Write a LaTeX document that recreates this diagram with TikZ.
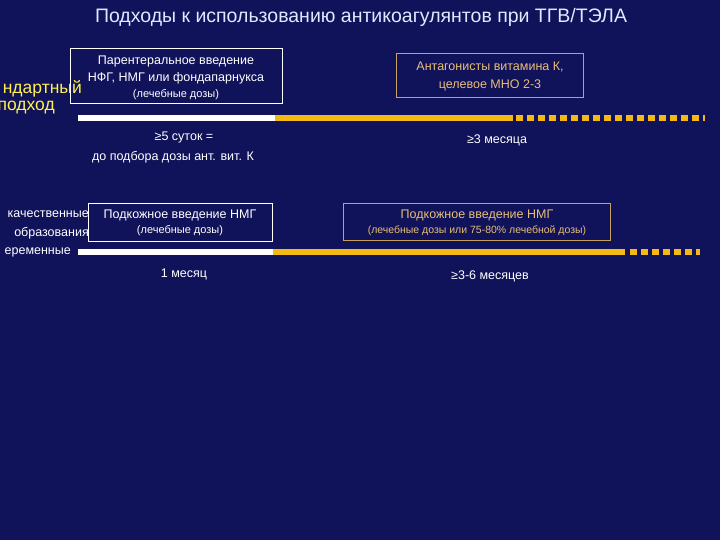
\documentclass[tikz,border=0pt]{standalone}
\usepackage{fontspec}
\setmainfont{Liberation Sans}
\begin{document}
\begin{tikzpicture}[x=1pt,y=-1pt,
  txt/.style={inner sep=0pt,text=white},
  otxt/.style={inner sep=0pt,text={rgb,255:red,232;green,190;blue,120}},
  ylab/.style={inner sep=0pt,text={rgb,255:red,255;green,240;blue,80},font=\fontsize{17.5}{20}\selectfont},
  wlab/.style={inner sep=0pt,text=white,font=\fontsize{12.5}{14}\selectfont,anchor=east},
  wbox/.style={draw=white,line width=0.8pt},
  obox/.style={draw={rgb,255:red,200;green,160;blue,96},line width=0.8pt},
  wbar/.style={white,line width=6pt},
  ybar/.style={draw={rgb,255:red,245;green,185;blue,20},line width=6pt},
  ydash/.style={ybar,dash pattern=on 7pt off 4pt}]
\fill[fill={rgb,255:red,16;green,18;blue,90}] (0,0) rectangle (720,540);
\clip (0,0) rectangle (720,540);
\node[txt,font=\fontsize{19.5}{22}\selectfont,text={rgb,255:red,225;green,232;blue,255}] (title) at (361,17) {Подходы к использованию антикоагулянтов при ТГВ/ТЭЛА};
% left labels
\node[ylab,anchor=east] (l1) at (82,89) {ндартный};
\node[ylab,anchor=east] (l2) at (55,108) {подход};
\node[wlab] (l3) at (89,214) {качественные};
\node[wlab] (l4) at (89,233) {образования};
\node[wlab] (l5) at (71,252) {еременные};
% boxes
\draw[wbox] (70,48) rectangle (282,103);
\node[txt,font=\fontsize{12.5}{14}\selectfont] (b1a) at (176,61) {Парентеральное введение};
\node[txt,font=\fontsize{12.5}{14}\selectfont] (b1b) at (176,78) {НФГ, НМГ или фондапарнукса};
\node[txt,font=\fontsize{11}{12}\selectfont] (b1c) at (176,95) {(лечебные дозы)};
\draw[obox] (396,53) rectangle (583,97);
\node[otxt,font=\fontsize{12.5}{14}\selectfont] (b2a) at (490,67) {Антагонисты витамина К,};
\node[otxt,font=\fontsize{12.5}{14}\selectfont] (b2b) at (490,85) {целевое МНО 2-3};
\draw[wbox] (88,203) rectangle (272,241);
\node[txt,font=\fontsize{12.5}{14}\selectfont] (b3a) at (180,215) {Подкожное введение НМГ};
\node[txt,font=\fontsize{11}{12}\selectfont] (b3b) at (180,231) {(лечебные дозы)};
\draw[obox] (343,203) rectangle (610,240);
\node[otxt,font=\fontsize{12.5}{14}\selectfont] (b4a) at (477,215) {Подкожное введение НМГ};
\node[otxt,font=\fontsize{10.5}{12}\selectfont] (b4b) at (477,231) {(лечебные дозы или 75-80\% лечебной дозы)};
% bars
\coordinate (a0) at (78,118); \coordinate (a1) at (275,118); \coordinate (a2) at (513,118); \coordinate (a3) at (705,118);
\draw[wbar] (a0) -- (a1);
\draw[ybar] (a1) -- (a2);
\draw[ydash] ([xshift=3pt]a2) -- (a3);
\coordinate (c0) at (78,252); \coordinate (c1) at (273,252); \coordinate (c2) at (625,252); \coordinate (c3) at (700,252);
\draw[wbar] (c0) -- (c1);
\draw[ybar] (c1) -- (c2);
\draw[ydash] ([xshift=5pt]c2) -- (c3);
% durations
\node[txt,font=\fontsize{12.5}{14}\selectfont] (d1) at (184,137) {≥5 суток =};
\node[txt,font=\fontsize{12.5}{14}\selectfont] (d2) at (173,157) {до подбора дозы ант. вит. К};
\node[txt,font=\fontsize{12.5}{14}\selectfont] (d3) at (497,140) {≥3 месяца};
\node[txt,font=\fontsize{12.5}{14}\selectfont] (d4) at (184,274) {1 месяц};
\node[txt,font=\fontsize{12.5}{14}\selectfont] (d5) at (490,276) {≥3-6 месяцев};
\end{tikzpicture}
\end{document}
